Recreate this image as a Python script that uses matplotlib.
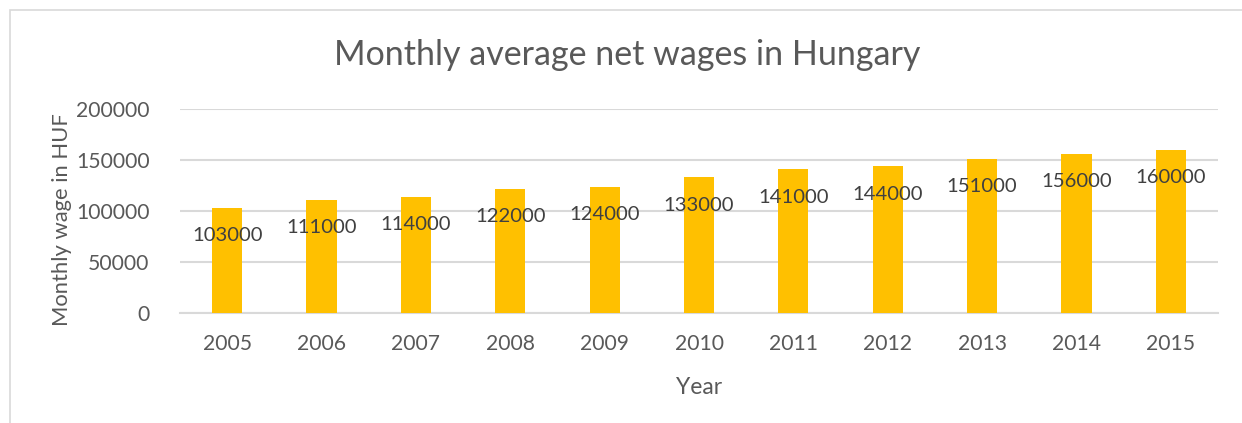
import matplotlib
matplotlib.use("Agg")
import matplotlib.pyplot as plt
from matplotlib.patches import Rectangle

years = ["2005", "2006", "2007", "2008", "2009", "2010", "2011", "2012", "2013", "2014", "2015"]
wages = [103000, 111000, 114000, 122000, 124000, 133000, 141000, 144000, 151000, 156000, 160000]
yticks = [0, 50000, 100000, 150000, 200000]

plt.rcParams['font.family'] = ['Lato', 'DejaVu Sans']
txt = '#595959'
grid = '#D9D9D9'

fig = plt.figure(figsize=(12.42, 4.23), dpi=100)
ax = fig.add_axes([180/1242, 1-313/423, (1218-180)/1242, (313-109)/423])

x = list(range(len(years)))
bars = ax.bar(x, wages, width=0.32, color='#FFC000', zorder=3)
for xi, v in zip(x, wages):
    ax.annotate(str(v), (xi, v), xytext=(0, -28), textcoords='offset pixels',
                ha='center', va='center', fontsize=14.6, color='#404040', zorder=4)

ax.set_xlim(-0.5, len(years) - 0.5)
ax.set_ylim(0, 200000)
ax.set_yticks(yticks)
ax.set_yticklabels([str(t) for t in yticks])
ax.set_xticks(x)
ax.set_xticklabels(years)
ax.tick_params(axis='both', length=0, labelsize=15.2, labelcolor=txt)
ax.tick_params(axis='y', pad=22)
ax.tick_params(axis='x', pad=15)
ax.grid(axis='y', color=grid, linewidth=1.5, zorder=0)
for s in ['top', 'right', 'left']:
    ax.spines[s].set_visible(False)
ax.spines['bottom'].set_color(grid)
ax.spines['bottom'].set_linewidth(1.5)

ax.set_xlabel('Year', fontsize=16.5, color=txt, labelpad=17)
ax.set_ylabel('Monthly wage in HUF', fontsize=15.8, color=txt)
ax.yaxis.set_label_coords(-0.104, 0.46)
fig.text(627/1242, 1-55/423, 'Monthly average net wages in Hungary', ha='center', va='center',
         fontsize=24.5, color=txt)

fig.patches.append(Rectangle((10/1242, -0.1), 1.2, 1-10/423+0.1, transform=fig.transFigure,
                             fill=False, edgecolor=grid, linewidth=1.2))

fig.savefig('out.png', dpi=100)
